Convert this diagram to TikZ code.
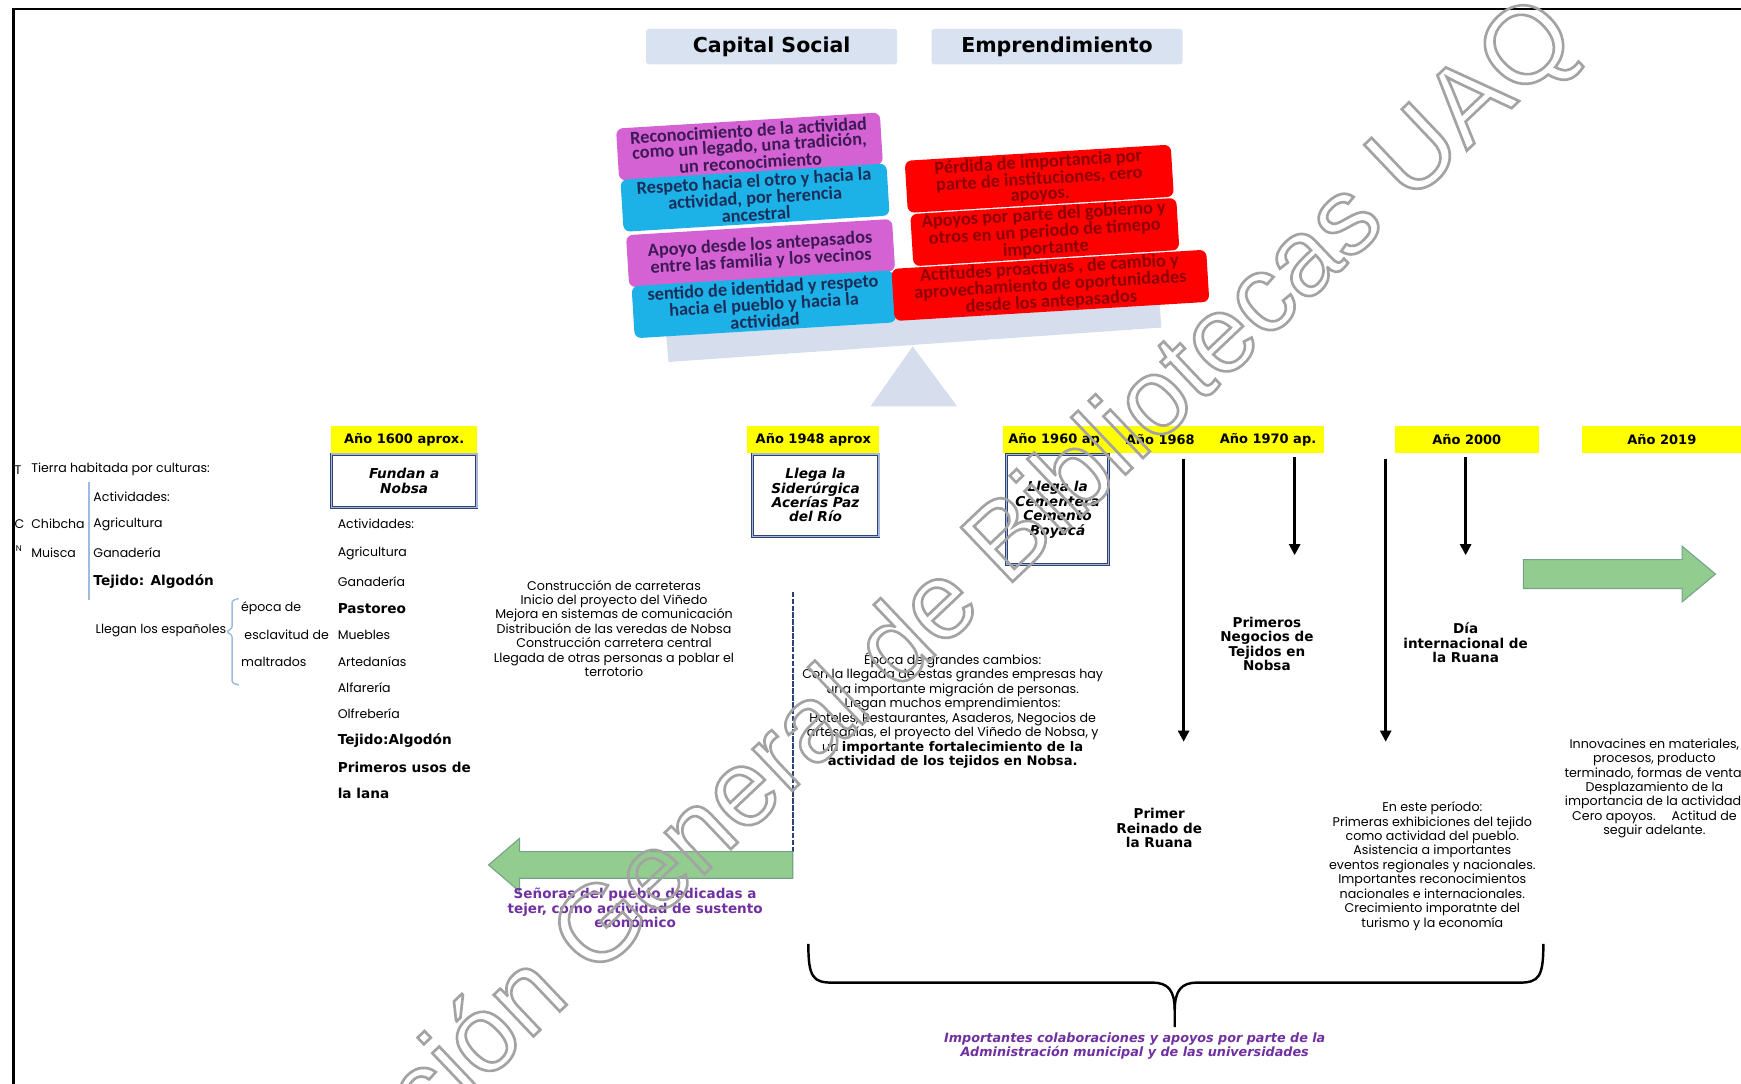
\documentclass[tikz,border=0pt]{standalone}
\usepackage{fontspec}
\setmainfont{Poppins}
\newfontfamily\calibfont{Carlito}
\newfontfamily\heavyfont{DejaVu Sans}
\newfontfamily\stampfont{Liberation Sans}
\usetikzlibrary{arrows.meta}

% outlined (stroked) letters for the diagonal stamp
\newcommand\hollow[1]{\special{pdf:literal direct 1 Tr 2.4 w}#1\special{pdf:literal direct 0 Tr}}

\definecolor{hdrfill}{HTML}{D9E2F1}
\definecolor{magbox}{HTML}{D462D3}
\definecolor{cyanbox}{HTML}{1CB2E8}
\definecolor{redbox}{HTML}{FF0000}
\definecolor{plank}{HTML}{D6DDEC}
\definecolor{yel}{HTML}{FFFF00}
\definecolor{navy}{HTML}{2E4374}
\definecolor{frameblue}{HTML}{A9B8DA}
\definecolor{brk}{HTML}{9DBAE0}
\definecolor{arrgreen}{HTML}{93CC8F}
\definecolor{arrgreenline}{HTML}{74A38A}
\definecolor{purp}{HTML}{7030A0}
\definecolor{magtxt}{HTML}{3D1A55}
\definecolor{cyantxt}{HTML}{1B2E5A}
\definecolor{redtxt}{HTML}{8E0000}

\begin{document}
\begin{tikzpicture}[x=1pt,y=-1pt,
  hdrbox/.style={fill=hdrfill, rounded corners=2.5pt, minimum width=226pt, minimum height=32pt, inner sep=0pt, font=\heavyfont\bfseries\fontsize{18.5}{20}\selectfont},
  balbox/.style={rounded corners=6pt, minimum height=47pt, inner sep=0pt, align=center, rotate=3.5, font=\calibfont\bfseries\fontsize{16.5}{13.5}\selectfont},
  magbal/.style={balbox, fill=magbox, text=magtxt},
  cyanbal/.style={balbox, fill=cyanbox, text=cyantxt},
  redbal/.style={balbox, fill=redbox, text=redtxt},
  yearlbl/.style={fill=yel, inner sep=0pt, minimum height=24pt, font=\heavyfont\bfseries\fontsize{11.7}{13}\selectfont},
  yeartxt/.style={inner sep=0pt, font=\heavyfont\bfseries\fontsize{11.7}{13}\selectfont},
  evtbox/.style={fill=white, draw=navy, line width=0.8pt, double=frameblue, double distance=1.2pt, inner sep=0pt, align=center, font=\heavyfont\bfseries\itshape\fontsize{12.3}{13}\selectfont},
  plain/.style={inner sep=0pt, anchor=west, font=\fontsize{11.3}{13}\selectfont},
  heavy/.style={inner sep=0pt, anchor=west, font=\heavyfont\bfseries\fontsize{12.3}{13}\selectfont},
  block/.style={inner sep=0pt, align=center, font=\fontsize{11.4}{13}\selectfont},
  boldblock/.style={inner sep=0pt, align=center, font=\heavyfont\bfseries\fontsize{12.2}{13}\selectfont},
  purpblock/.style={inner sep=0pt, align=center, text=purp, font=\heavyfont\bfseries\fontsize{12.2}{13}\selectfont},
  varrow/.style={line width=2.2pt, -{Triangle[length=10pt,width=10pt]}},
  braceline/.style={line width=2.2pt},
  greenarrow/.style={fill=arrgreen, draw=arrgreenline, line width=1pt},
]
\useasboundingbox (0,0) rectangle (1568,976);
\fill[white] (0,0) rectangle (1568,976);

% page frame
\draw[line width=2.4pt] (12,976) -- (12,8) -- (1568,8);

% headings
\node[hdrbox] (cs) at (695,42) {Capital Social};
\node[hdrbox] (em) at (952,42) {Emprendimiento};

% balance: plank and fulcrum
\fill[plank] (600,301) -- (1044,270) -- (1046,295) -- (602,326) -- cycle;
\fill[plank] (822,312) -- (862,366) -- (784,366) -- cycle;

% left pan: social capital
\node[magbal, minimum width=238pt] (l1) at (675,132) {Reconocimiento de la actividad\\como un legado, una tradición,\\un reconocimiento};
\node[cyanbal, minimum width=240pt] (l2) at (680,178) {Respeto hacia el otro y hacia la\\actividad, por herencia\\ancestral};
\node[magbal, minimum width=240pt] (l3) at (685,228) {Apoyo desde los antepasados\\entre las familia y  los vecinos};
\node[cyanbal, minimum width=236pt] (l4) at (688,274) {sentido de identidad y respeto\\hacia el pueblo y hacia la\\actividad};

% right pan: entrepreneurship
\node[redbal, minimum width=240pt] (r1) at (936,161) {Pérdida de importancia por\\parte de instituciones, cero\\apoyos.};
\node[redbal, minimum width=240pt] (r2) at (941,209) {Apoyos por parte del gobierno y\\otros en un periodo de timepo\\importante};
\node[redbal, minimum width=284pt] (r3) at (946,257) {Actitudes proactivas , de cambio y\\aprovechamiento de oportunidades\\desde los antepasados};

% year labels
\node[yearlbl, minimum width=132pt] (y1600) at (364,396) {Año 1600 aprox.};
\node[yearlbl, minimum width=119pt] (y1948) at (732.5,396) {Año 1948 aprox};
\fill[yel] (903,384) rectangle (1192,408);
\begin{scope}
  \clip (903,384) rectangle (1002,408);
  \node[yeartxt, anchor=west] (y1960) at (908,396) {Año 1960 ap};
\end{scope}
\node[yeartxt] (y1968) at (1045,396) {Año 1968};
\node[yeartxt] (y1970) at (1142,396) {Año 1970 ap.};
\node[yearlbl, minimum width=130pt] (y2000) at (1321,396) {Año 2000};
\node[yearlbl, minimum width=143pt, anchor=west] (y2019) at (1425,396) {Año 2019};

% framed events
\node[evtbox, minimum width=131pt, minimum height=48pt] (ev1600) at (364,433) {Fundan a\\Nobsa};
\node[evtbox, minimum width=114pt, minimum height=74pt] (ev1948) at (734.5,446) {Llega la\\Siderúrgica\\Acerías Paz\\del Río};
\node[evtbox, minimum width=92pt, minimum height=99pt] (ev1960) at (952.5,459) {Llega la\\Cementera\\Cemento\\Boyacá};

% first inhabitants
\node[plain] (tmark) at (13,423) {T};
\node[plain] (tierra) at (28,423) {Tierra habitada por culturas:};
\node[plain] (act1) at (84,447) {Actividades:};
\node[plain] (cmark) at (13,472) {C};
\node[plain] (chib) at (28,472) {Chibcha};
\node[plain] (agr1) at (84,472) {Agricultura};
\node[plain, font=\fontsize{7.5}{8}\selectfont] (nmark) at (14,494) {N};
\node[plain] (muis) at (28,498) {Muisca};
\node[plain] (gan1) at (84,498) {Ganadería};
\node[heavy] (tej1) at (84,524) {Tejido: Algodón};
\node[plain] (esp) at (86,568) {Llegan los españoles};
\node[plain] (epo) at (217,548) {época de};
\node[plain] (escl) at (220,572) {esclavitud de};
\node[plain] (malt) at (217,596) {maltrados};
\draw[brk, line width=1.8pt] (80,434) -- (80,540);
\draw[brk, line width=1.3pt, rounded corners=2pt] (215,539) -- (209,541) -- (209,566) -- (204,569) -- (209,572) -- (209,615) -- (215,617);

% activities after the foundation
\node[plain] (act2) at (304,472) {Actividades:};
\node[plain] (agr2) at (304,498) {Agricultura};
\node[plain] (gan2) at (304,524) {Ganadería};
\node[heavy] (past) at (304,548) {Pastoreo};
\node[plain] (mueb) at (304,572) {Muebles};
\node[plain] (arte) at (304,596) {Artedanías};
\node[plain] (alfa) at (304,619) {Alfarería};
\node[plain] (olfr) at (304,643) {Olfrebería};
\node[heavy] (tej2) at (304,667) {Tejido:Algodón};
\node[heavy] (usos) at (304,691) {Primeros usos de};
\node[heavy] (lana) at (304,715) {la lana};

% mid-century
\node[block] (obras) at (553,566) {Construcción de carreteras\\Inicio del proyecto del Viñedo\\Mejora en sistemas de comunicación\\Distribución de las veredas de Nobsa\\Construcción carretera central\\Llegada de otras personas a poblar el\\terrotorio};

\coordinate (dtop) at (714,533);
\coordinate (dbot) at (714,767);
\draw[navy, line width=1.8pt, dash pattern=on 5pt off 1.2pt] (dtop) -- (dbot);
\filldraw[greenarrow] (714,767) -- (468,767) -- (468,755) -- (440,779) -- (468,803) -- (468,791) -- (714,791) -- cycle;
\node[purpblock] (senoras) at (572,818) {Señoras del pueblo dedicadas a\\tejer, como actividad de sustento\\económico};

\node[block] (cambios) at (858,640) {Época de grandes cambios:\\Con la llegada de estas grandes empresas hay\\una importante migración de personas.\\Llegan muchos emprendimientos:\\Hoteles, Restaurantes, Asaderos, Negocios de\\artesanías, el proyecto del Viñedo de Nobsa, y\\un {\heavyfont\bfseries\fontsize{11.8}{13}\selectfont importante fortalecimiento de la}\\{\heavyfont\bfseries\fontsize{11.8}{13}\selectfont actividad de los tejidos en Nobsa.}};

% late timeline
\coordinate (a68s) at (1066,413); \coordinate (a68e) at (1066,668);
\coordinate (a70s) at (1166,412); \coordinate (a70e) at (1166,500);
\coordinate (a90s) at (1248,413); \coordinate (a90e) at (1248,668);
\coordinate (a00s) at (1320,412); \coordinate (a00e) at (1320,500);
\draw[varrow] (a68s) -- (a68e);
\draw[varrow] (a70s) -- (a70e);
\draw[varrow] (a90s) -- (a90e);
\draw[varrow] (a00s) -- (a00e);

\node[boldblock] (negocios) at (1141,580) {Primeros\\Negocios de\\Tejidos en\\Nobsa};
\node[boldblock] (dia) at (1320,579) {Día\\internacional de\\la Ruana};
\node[boldblock] (reinado) at (1044,746) {Primer\\Reinado de\\la Ruana};
\node[block] (periodo) at (1290,780) {En este período:\\Primeras exhibiciones del tejido\\como actividad del pueblo.\\Asistencia a importantes\\eventos regionales y nacionales.\\Importantes reconocimientos\\nacionales e internacionales.\\Crecimiento imporatnte del\\turismo y la economía};

\filldraw[greenarrow] (1372,504) -- (1515,504) -- (1515,492) -- (1545,517) -- (1515,542) -- (1515,530) -- (1372,530) -- cycle;
\node[block] (innova) at (1490,710) {Innovacines en materiales,\\procesos, producto\\terminado, formas de venta.\\Desplazamiento de la\\importancia de la actividad.\\Cero apoyos.\quad\ Actitud de\\seguir adelante.};

% brace over the collaboration period
\coordinate (brL) at (728,850);
\coordinate (brR) at (1390,850);
\coordinate (brM) at (1058,925);
\draw[braceline] (brL) .. controls (728,880) and (732,885) .. (750,885) -- (1038,885) .. controls (1052,885) and (1058,892) .. (1058,910) -- (brM);
\draw[braceline] (1058,910) .. controls (1058,892) and (1064,885) .. (1078,885) -- (1368,885) .. controls (1386,885) and (1390,880) .. (brR);
\node[purpblock, font=\heavyfont\bfseries\itshape\fontsize{11.5}{13}\selectfont] (apoyos) at (1022,942) {Importantes colaboraciones y apoyos por parte de la\\Administración municipal y de las universidades};

% diagonal library stamp
\node[rotate=43.5, anchor=base east, inner sep=0pt, text=black!36, font=\stampfont\fontsize{98}{98}\selectfont] (stamp) at (1424,38) {\hollow{Dirección General de Bibliotecas UAQ}};
\end{tikzpicture}
\end{document}
